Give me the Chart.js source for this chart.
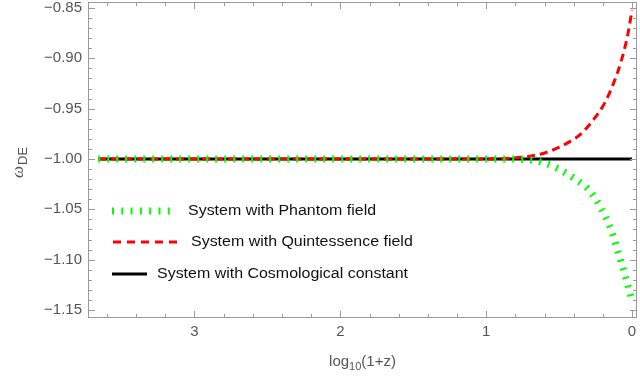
<!DOCTYPE html>
<html>
<head>
<meta charset="utf-8">
<script src="https://cdn.jsdelivr.net/npm/chart.js@4.4.1/dist/chart.umd.min.js"></script>
<style>
  html, body { margin: 0; padding: 0; background: #fff; }
  #wrap { width: 640px; height: 376px; position: relative; }
</style>
</head>
<body>
<div id="wrap"><canvas id="myChart"></canvas></div>
<script>
// log10(1+z) values and w_DE
const phantomX = [3.66, 0.9, 0.7, 0.58, 0.49, 0.40, 0.30, 0.24, 0.18, 0.13, 0.09, 0.045, 0];
const phantomY = [-1, -1, -1.001, -1.005, -1.011, -1.019, -1.030, -1.042, -1.058, -1.076, -1.095, -1.117, -1.141];

const quintX = [3.66, 1.0, 0.81, 0.69, 0.60, 0.51, 0.43, 0.35, 0.27, 0.19, 0.13, 0.075, 0.03, 0];
const quintY = [-1, -1, -0.999, -0.997, -0.994, -0.989, -0.983, -0.975, -0.962, -0.945, -0.926, -0.903, -0.877, -0.852];

const lambdaX = [3.66, 0];
const lambdaY = [-1, -1];

const xTicks = [0, 1, 2, 3];
const yTicks = [-1.15, -1.10, -1.05, -1.00, -0.95, -0.90, -0.85];

const labels = [
  "System with Phantom field",
  "System with Quintessence field",
  "System with Cosmological constant",
];

const toPoints = (xs, ys) => xs.map((x, i) => ({ x: x, y: ys[i] }));
const fmt = (v) => (v < 0 ? "\u2212" : "") + Math.abs(v).toFixed(2);

const FRAME = "#9a9a9a";
const TEXT = "#555555";

// frame with inward ticks, legend and axis titles
const framePlugin = {
  id: "frame",
  afterDraw(chart) {
    const { ctx, chartArea: a, scales } = chart;
    const xs = scales.x, ys = scales.y;
    ctx.save();
    ctx.strokeStyle = FRAME;
    ctx.lineWidth = 1;
    ctx.setLineDash([]);
    ctx.strokeRect(Math.round(a.left) + 0.5, Math.round(a.top) + 0.5,
      Math.round(a.right - a.left) - 1, Math.round(a.bottom - a.top) - 1);

    ctx.beginPath();
    for (let i = 0; i <= 19; i++) {
      const v = i * 0.2;
      const px = Math.round(xs.getPixelForValue(v)) + 0.5;
      if (px < a.left || px > a.right) continue;
      const len = i % 5 === 0 ? 7 : 4;
      ctx.moveTo(px, a.bottom); ctx.lineTo(px, a.bottom - len);
      ctx.moveTo(px, a.top); ctx.lineTo(px, a.top + len);
    }
    for (let i = 0; i <= 31; i++) {
      const v = -1.15 + i * 0.01;
      const py = Math.round(ys.getPixelForValue(v)) + 0.5;
      if (py < a.top || py > a.bottom) continue;
      const len = i % 5 === 0 ? 7 : 4;
      ctx.moveTo(a.left, py); ctx.lineTo(a.left + len, py);
      ctx.moveTo(a.right, py); ctx.lineTo(a.right - len, py);
    }
    ctx.stroke();

    // legend
    ctx.lineCap = "butt";
    ctx.beginPath();
    ctx.strokeStyle = "#00ff00";
    ctx.lineWidth = 7;
    ctx.setLineDash([2, 7.3]);
    ctx.moveTo(112, 211); ctx.lineTo(170, 211);
    ctx.stroke();

    ctx.beginPath();
    ctx.strokeStyle = "#ff0000";
    ctx.lineWidth = 3;
    ctx.setLineDash([8, 6]);
    ctx.moveTo(113, 242); ctx.lineTo(177, 242);
    ctx.stroke();

    ctx.beginPath();
    ctx.strokeStyle = "#000000";
    ctx.lineWidth = 3;
    ctx.setLineDash([]);
    ctx.moveTo(112, 274); ctx.lineTo(147, 274);
    ctx.stroke();

    const drawStretched = (txt, x, y) => {
      ctx.save();
      ctx.translate(x, y);
      ctx.scale(1.14, 1);
      ctx.fillText(txt, 0, 0);
      ctx.restore();
    };
    ctx.fillStyle = "#111";
    ctx.font = "14px 'Liberation Sans', Arial, sans-serif";
    ctx.textBaseline = "middle";
    ctx.textAlign = "left";
    drawStretched(labels[0], 188, 211);
    drawStretched(labels[1], 191, 242);
    drawStretched(labels[2], 157, 274);

    // x title: log10(1+z)
    ctx.fillStyle = TEXT;
    ctx.textBaseline = "alphabetic";
    const big = "15px 'Liberation Sans', Arial, sans-serif";
    const small = "11px 'Liberation Sans', Arial, sans-serif";
    ctx.font = big;
    const w1 = ctx.measureText("log").width;
    const w3 = ctx.measureText("(1+z)").width;
    ctx.font = small;
    const w2 = ctx.measureText("10").width;
    const cx = (a.left + a.right) / 2;
    let x0 = cx - (w1 + w2 + w3) / 2;
    const by = 366;
    ctx.font = big; ctx.fillText("log", x0, by);
    ctx.font = small; ctx.fillText("10", x0 + w1, by + 4);
    ctx.font = big; ctx.fillText("(1+z)", x0 + w1 + w2, by);

    // y title: omega_DE
    ctx.save();
    ctx.translate(23, 178);
    ctx.rotate(-Math.PI / 2);
    ctx.font = "italic 17px 'Liberation Serif', 'DejaVu Serif', serif";
    const wo = ctx.measureText("\u03c9").width;
    ctx.fillText("\u03c9", 0, 0);
    ctx.font = "13px 'Liberation Sans', Arial, sans-serif";
    ctx.fillText("DE", wo + 1, 4);
    ctx.restore();

    ctx.restore();
  },
};

const ctx = document.getElementById("myChart");
new Chart(ctx, {
  type: "scatter",
  data: {
    datasets: [
      {
        label: labels[0],
        data: toPoints(phantomX, phantomY),
        showLine: true,
        borderColor: "#00ff00",
        borderWidth: 7,
        borderDash: [2, 7],
        borderCapStyle: "butt",
        pointRadius: 0,
        cubicInterpolationMode: "monotone",
      },
      {
        label: labels[1],
        data: toPoints(quintX, quintY),
        showLine: true,
        borderColor: "#ff0000",
        borderWidth: 3,
        borderDash: [8, 5],
        borderCapStyle: "butt",
        pointRadius: 0,
        cubicInterpolationMode: "monotone",
      },
      {
        label: labels[2],
        data: toPoints(lambdaX, lambdaY),
        showLine: true,
        borderColor: "#000000",
        borderWidth: 3,
        pointRadius: 0,
      },
    ],
  },
  options: {
    responsive: true,
    maintainAspectRatio: false,
    animation: false,
    layout: { padding: { top: 2, right: 3, left: 0, bottom: 0 } },
    plugins: { legend: { display: false }, tooltip: { enabled: false } },
    scales: {
      x: {
        type: "linear",
        reverse: true,
        min: -0.034,
        max: 3.73,
        grid: { display: false, drawTicks: false },
        border: { display: false },
        afterBuildTicks: (scale) => { scale.ticks = xTicks.map((v) => ({ value: v })); },
        afterFit: (scale) => {
          scale.height = 58;
          scale.paddingLeft = 0; scale.paddingRight = 0;
        },
        ticks: {
          padding: 5,
          maxRotation: 0,
          color: TEXT,
          font: { family: "'Liberation Sans', Arial, sans-serif", size: 15 },
          callback: (v) => String(v),
        },
      },
      y: {
        type: "linear",
        min: -1.158,
        max: -0.844,
        grid: { display: false, drawTicks: false },
        border: { display: false },
        afterBuildTicks: (scale) => { scale.ticks = yTicks.map((v) => ({ value: v })); },
        afterFit: (scale) => {
          scale.width = 88;
          scale.paddingTop = 0; scale.paddingBottom = 0;
        },
        ticks: {
          padding: 6,
          color: TEXT,
          font: { family: "'Liberation Sans', Arial, sans-serif", size: 15 },
          callback: (v) => fmt(v),
        },
      },
    },
  },
  plugins: [framePlugin],
});
</script>
</body>
</html>
